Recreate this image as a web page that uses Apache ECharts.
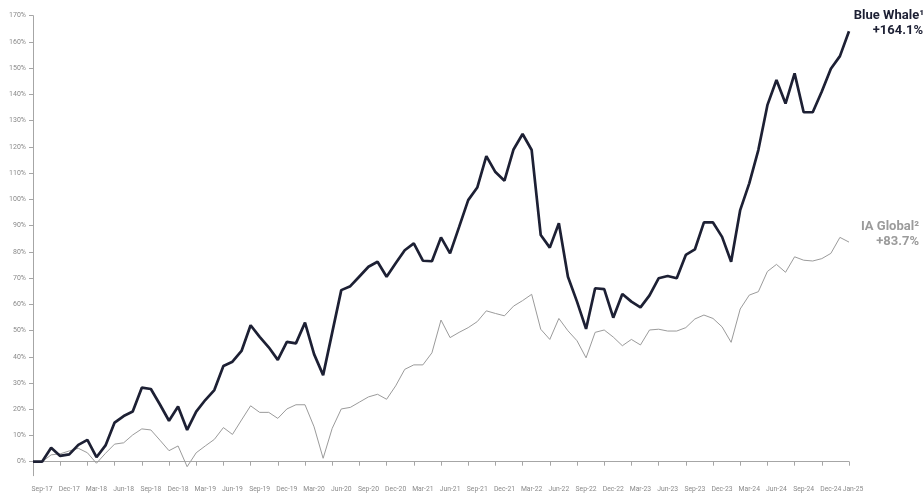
<!DOCTYPE html>
<html>
<head>
<meta charset="utf-8">
<script src="https://cdn.jsdelivr.net/npm/echarts@6/dist/echarts.min.js"></script>
<style>
html,body{margin:0;padding:0;background:#fff;}
#c{width:924px;height:493px;}
</style>
</head>
<body>
<div id="c"></div>
<script>
// Monthly points, first point = Aug-17 baseline
const categories = (function(){
  const m=['Jan','Feb','Mar','Apr','May','Jun','Jul','Aug','Sep','Oct','Nov','Dec'];
  const out=[]; let y=2017, mo=7;
  for(let i=0;i<91;i++){ out.push(m[mo]+'-'+String(y).slice(2)); mo++; if(mo===12){mo=0;y++;} }
  return out;
})();

const blueWhale = [0, 0, 5.3, 2.2, 2.8, 6.4, 8.3, 1.7, 6.2, 14.9,
 17.4, 19.1, 28.2, 27.7, 21.8, 15.6, 21, 12.1, 19.1, 23.5,
 27.3, 36.5, 38.1, 42.2, 52, 47.6, 43.6, 38.8, 45.7, 45.1,
 53, 41, 33, 49.2, 65.4, 66.9, 70.6, 74.3, 76.2, 70.5,
 75.6, 80.6, 83.2, 76.6, 76.4, 85.5, 79.4, 89.5, 99.7, 104.5,
 116.5, 110.4, 107.1, 119.0, 124.9, 118.8, 86.4, 81.6, 90.9, 70.5,
 61, 50.6, 66.1, 65.8, 54.9, 63.9, 61, 58.8, 63.4, 69.9,
 70.8, 69.9, 78.8, 80.9, 91.2, 91.2, 85.7, 76.2, 95.9, 106.1,
 118.8, 135.9, 145.5, 136.5, 148, 133.2, 133.2, 141.1, 149.8, 154.6,
 164.1];

const iaGlobal = [0, 0, 2.6, 3.0, 4.1, 5.1, 3.4, -0.6, 3.2, 6.7,
 7.2, 10.2, 12.5, 12.1, 8.2, 4.2, 6, -1.9, 3.4, 6,
 8.5, 13, 10.4, 15.9, 21.3, 18.8, 18.8, 16.5, 20.1, 21.7,
 21.7, 13.3, 1.3, 12.7, 20.1, 20.7, 22.7, 24.7, 25.7, 23.8,
 28.9, 35.2, 36.9, 36.9, 41.5, 54, 47.3, 49.3, 51.1, 53.4,
 57.5, 56.5, 55.6, 59.3, 61.4, 63.8, 50.5, 46.6, 54.6, 49.9,
 46.1, 39.6, 49.3, 50.2, 47.5, 44.2, 46.6, 44.5, 50.2, 50.5,
 49.8, 49.8, 51.1, 54.4, 55.9, 54.6, 51.4, 45.5, 58.2, 63.5,
 64.8, 72.5, 75.2, 72.2, 78.1, 76.8, 76.5, 77.4, 79.4, 85.5,
 83.7];

const xTickLabels = ['Sep-17','Dec-17','Mar-18','Jun-18','Sep-18','Dec-18','Mar-19','Jun-19','Sep-19','Dec-19',
 'Mar-20','Jun-20','Sep-20','Dec-20','Mar-21','Jun-21','Sep-21','Dec-21','Mar-22','Jun-22',
 'Sep-22','Dec-22','Mar-23','Jun-23','Sep-23','Dec-23','Mar-24','Jun-24','Sep-24','Dec-24'];
const xTickIndex = [1,4,7,10,13,16,19,22,25,28,31,34,37,40,43,46,49,52,55,58,61,64,67,70,73,76,79,82,85,88];
const xEndLabel = 'Jan-25';
const xEndIndex = 90;
const yTicks = [0,10,20,30,40,50,60,70,80,90,100,110,120,130,140,150,160,170];

const labelMap = {};
xTickIndex.forEach((ix,k)=>{ labelMap[ix]=xTickLabels[k]; });

const DARK = '#1d2034';
const GREY = '#9b9b9b';
const AXIS = '#a6a6a6';
const LBL = {color:'#8a8a8a', fontSize:6.8, fontFamily:'Roboto', margin:10};

const chart = echarts.init(document.getElementById('c'), null, {renderer:'canvas'});
chart.setOption({
  animation:false,
  backgroundColor:'#ffffff',
  grid:{left:33, right:75, top:15.7, bottom:17.3, containLabel:false},
  xAxis:[{
    type:'category', data:categories, boundaryGap:false,
    axisLine:{lineStyle:{color:AXIS, width:1}},
    axisTick:{show:true, length:4, lineStyle:{color:AXIS}, interval:(i)=> i%3===0 || i===xEndIndex},
    axisLabel:Object.assign({}, LBL, {
      interval:(i)=> labelMap[i]!==undefined,
      formatter:(v,i)=> labelMap[i]!==undefined ? labelMap[i] : ''
    }),
    splitLine:{show:false}
  },{
    type:'category', data:categories, boundaryGap:false, position:'bottom',
    axisLine:{show:false}, axisTick:{show:false}, splitLine:{show:false},
    axisLabel:Object.assign({}, LBL, {
      padding:[0,0,0,8],
      interval:(i)=> i===xEndIndex,
      formatter:(v,i)=> i===xEndIndex ? xEndLabel : ''
    })
  }],
  yAxis:{
    type:'value', min:-5.34, max:170,
    axisLine:{show:true, lineStyle:{color:AXIS, width:1}},
    axisTick:{show:true, length:4, lineStyle:{color:AXIS}, customValues:yTicks},
    axisLabel:{color:'#8a8a8a', fontSize:7, fontFamily:'Roboto', margin:7, customValues:yTicks, formatter:'{value}%'},
    splitLine:{show:false}
  },
  series:[
    {name:'IA Global', type:'line', xAxisIndex:0, data:iaGlobal, symbol:'none', lineStyle:{color:GREY, width:1}, z:2},
    {name:'Blue Whale', type:'line', xAxisIndex:0, data:blueWhale, symbol:'none', lineStyle:{color:DARK, width:2.7}, z:3}
  ],
  graphic:[
    {type:'text', x:924, y:15.5, style:{text:'Blue Whale¹', fill:DARK, font:'bold 13px Roboto', textAlign:'right', textVerticalAlign:'middle'}},
    {type:'text', x:923, y:31, style:{text:'+164.1%', fill:DARK, font:'bold 13px Roboto', textAlign:'right', textVerticalAlign:'middle'}},
    {type:'text', x:919, y:226.5, style:{text:'IA Global²', fill:GREY, font:'bold 13px Roboto', textAlign:'right', textVerticalAlign:'middle'}},
    {type:'text', x:919, y:241.5, style:{text:'+83.7%', fill:GREY, font:'bold 13px Roboto', textAlign:'right', textVerticalAlign:'middle'}}
  ]
});
</script>
</body>
</html>
